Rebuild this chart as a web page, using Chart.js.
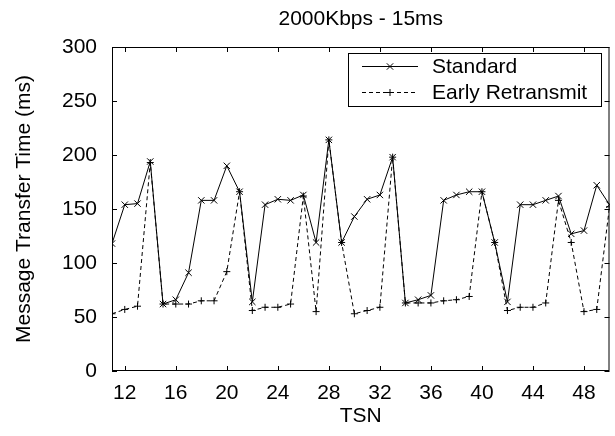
<!DOCTYPE html>
<html lang="en">

<head>
    <meta charset="UTF-8">
    <meta name="viewport" content="width=device-width, initial-scale=1.0">
    <script src="https://cdn.jsdelivr.net/npm/chart.js@4"></script>
    <title>2000Kbps - 15ms</title>
    <style>
        body { margin: 0; background: #fff; }
    </style>
</head>

<body>

    <canvas id="myChart" width="615" height="436"></canvas>

    <script>

        const tsn = [11, 12, 13, 14, 15, 16, 17, 18, 19, 20,
            21, 22, 23, 24, 25, 26, 27, 28, 29, 30,
            31, 32, 33, 34, 35, 36, 37, 38, 39, 40,
            41, 42, 43, 44, 45, 46, 47, 48, 49, 50];

        const standard = [118, 154, 155, 194, 62, 66, 91, 158, 158, 190,
            166, 64, 154, 159, 158, 163, 119, 214, 119, 143,
            159, 163, 198, 63, 66, 70, 158, 163, 166, 166,
            119, 64, 154, 154, 158, 162, 127, 130, 172, 154];

        const earlyRetransmit = [53, 57, 60, 193, 62, 62, 62, 65, 65, 92,
            166, 56, 59, 59, 62, 162, 55, 214, 119, 53,
            56, 59, 198, 63, 63, 63, 65, 66, 69, 166,
            119, 56, 59, 59, 63, 158, 119, 55, 57, 152];

        const xTicks = [12, 16, 20, 24, 28, 32, 36, 40, 44, 48];
        const yTicks = [0, 50, 100, 150, 200, 250, 300];
        const chartTitle = '2000Kbps - 15ms';

        const FONT = '"Liberation Sans", Arial, Helvetica, sans-serif';

        // gnuplot style frame: box round the plot, ticks pointing inward, legend box top right
        const framePlugin = {
            id: 'frame',
            afterDatasetsDraw(chart) {
                const { ctx, chartArea: a, scales } = chart;
                const tl = 5;
                ctx.save();
                ctx.strokeStyle = '#000';
                ctx.lineWidth = 1;
                ctx.setLineDash([]);
                ctx.strokeRect(a.left + 0.5, a.top + 0.5, a.right - a.left - 1, a.bottom - a.top - 1);
                ctx.beginPath();
                xTicks.forEach(v => {
                    const x = Math.round(scales.x.getPixelForValue(v)) + 0.5;
                    ctx.moveTo(x, a.bottom); ctx.lineTo(x, a.bottom - tl);
                    ctx.moveTo(x, a.top); ctx.lineTo(x, a.top + tl);
                });
                yTicks.forEach(v => {
                    const y = Math.round(scales.y.getPixelForValue(v)) + 0.5;
                    ctx.moveTo(a.left, y); ctx.lineTo(a.left + tl, y);
                    ctx.moveTo(a.right, y); ctx.lineTo(a.right - tl, y);
                });
                ctx.stroke();

                // title, centred over the plot area
                ctx.fillStyle = '#000';
                ctx.font = '21px ' + FONT;
                ctx.textAlign = 'center';
                ctx.textBaseline = 'middle';
                ctx.fillText(chartTitle, (a.left + a.right) / 2, 19);

                // legend
                const box = { left: 348, top: 53, right: 601, bottom: 106 };
                ctx.fillStyle = '#fff';
                ctx.fillRect(box.left, box.top, box.right - box.left, box.bottom - box.top);
                ctx.strokeRect(box.left + 0.5, box.top + 0.5, box.right - box.left, box.bottom - box.top);
                const rows = [66, 92];
                ctx.textAlign = 'left';
                chart.data.datasets.forEach((ds, i) => {
                    const y = rows[i] + 0.5;
                    ctx.beginPath();
                    ctx.setLineDash(ds.borderDash || []);
                    ctx.moveTo(362, y); ctx.lineTo(418, y);
                    ctx.stroke();
                    ctx.setLineDash([]);
                    Chart.helpers.drawPoint(ctx, {
                        pointStyle: ds.pointStyle, radius: ds.pointRadius, borderWidth: 1
                    }, 390, y);
                    ctx.fillStyle = '#000';
                    ctx.fillText(ds.label, 432, rows[i] + 1);
                });
                ctx.restore();
            }
        };

        const ctx = document.getElementById('myChart');

        new Chart(ctx, {
            type: 'line',
            data: {
                datasets: [{
                    label: 'Standard',
                    data: tsn.map((t, i) => ({ x: t, y: standard[i] })),
                    borderColor: '#000',
                    backgroundColor: '#000',
                    borderWidth: 1,
                    pointStyle: 'crossRot',
                    pointRadius: 4.5,
                    pointBorderWidth: 1,
                    fill: false,
                    tension: 0
                }, {
                    label: 'Early Retransmit',
                    data: tsn.map((t, i) => ({ x: t, y: earlyRetransmit[i] })),
                    borderColor: '#000',
                    backgroundColor: '#000',
                    borderWidth: 1,
                    borderDash: [4, 3],
                    pointStyle: 'cross',
                    pointRadius: 3.5,
                    pointBorderWidth: 1,
                    fill: false,
                    tension: 0
                }]
            },
            options: {
                responsive: false,
                animation: false,
                layout: { padding: { left: 0, right: 1, top: 47, bottom: 0 } },
                plugins: {
                    legend: { display: false },
                    tooltip: { enabled: false },
                    title: { display: false }
                },
                scales: {
                    x: {
                        type: 'linear',
                        min: 11,
                        max: 50,
                        afterBuildTicks: scale => { scale.ticks = xTicks.map(v => ({ value: v })); },
                        afterFit: scale => { scale.height = 65; },
                        grid: { display: false },
                        border: { display: false },
                        ticks: {
                            color: '#000',
                            padding: 2,
                            maxRotation: 0,
                            autoSkip: false,
                            font: { family: FONT, size: 21 }
                        },
                        title: {
                            display: true,
                            text: 'TSN',
                            color: '#000',
                            font: { family: FONT, size: 21 },
                            padding: { top: 0, bottom: 7 }
                        }
                    },
                    y: {
                        min: 0,
                        max: 300,
                        afterBuildTicks: scale => { scale.ticks = yTicks.map(v => ({ value: v })); },
                        afterFit: scale => { scale.width = 112; },
                        grid: { display: false },
                        border: { display: false },
                        ticks: {
                            color: '#000',
                            padding: 7,
                            font: { family: FONT, size: 21 }
                        },
                        title: {
                            display: true,
                            text: 'Message Transfer Time (ms)',
                            color: '#000',
                            font: { family: FONT, size: 21 },
                            padding: { top: 12, bottom: 0 }
                        }
                    }
                }
            },
            plugins: [framePlugin]
        });

    </script>

</body>

</html>
